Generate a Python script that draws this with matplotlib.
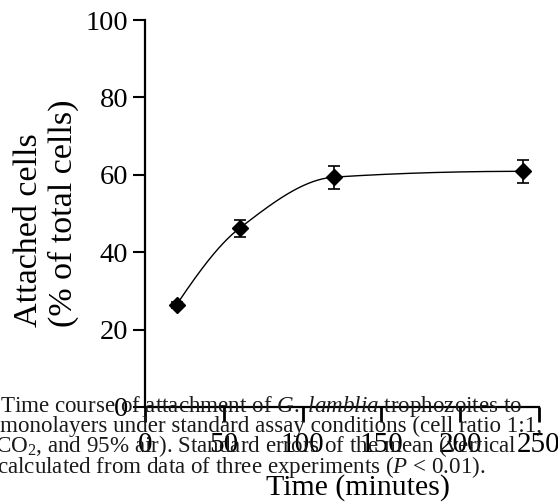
import numpy as np
import matplotlib
matplotlib.use("Agg")
import matplotlib.pyplot as plt

# ---- data ----
time_min = [20, 60, 120, 240]
attached_pct = [26.4, 46.2, 59.4, 60.9]
sem = [0.8, 2.2, 3.0, 3.0]
x_ticks = [0, 50, 100, 150, 200, 250]
y_ticks = [0, 20, 40, 60, 80, 100]
caption_lines = [
    r"Time course of attachment of $\it{G.\ lamblia}$ trophozoites to",
    "monolayers under standard assay conditions (cell ratio 1:1,",
    r"CO$_2$, and 95% air). Standard errors of the mean (vertical",
    r"calculated from data of three experiments ($\it{P}$ < 0.01).",
]

plt.rcParams['font.family'] = ['Liberation Serif', 'DejaVu Serif']
plt.rcParams['mathtext.fontset'] = 'custom'
plt.rcParams['mathtext.rm'] = 'Liberation Serif'
plt.rcParams['mathtext.it'] = 'Liberation Serif:italic'


def pchip(x, y, xn):
    x = np.asarray(x, float); y = np.asarray(y, float)
    h = np.diff(x); d = np.diff(y) / h
    n = len(x); m = np.zeros(n)
    for k in range(1, n - 1):
        if d[k-1] * d[k] > 0:
            w1 = 2 * h[k] + h[k-1]; w2 = h[k] + 2 * h[k-1]
            m[k] = (w1 + w2) / (w1 / d[k-1] + w2 / d[k])
    m[0] = ((2 * h[0] + h[1]) * d[0] - h[0] * d[1]) / (h[0] + h[1])
    if np.sign(m[0]) != np.sign(d[0]): m[0] = 0
    m[-1] = ((2 * h[-1] + h[-2]) * d[-1] - h[-1] * d[-2]) / (h[-1] + h[-2])
    if np.sign(m[-1]) != np.sign(d[-1]): m[-1] = 0
    out = np.empty_like(xn)
    for i, xv in enumerate(xn):
        k = min(np.searchsorted(x, xv, side='right') - 1, n - 2)
        t = (xv - x[k]) / h[k]
        h00 = 2*t**3 - 3*t**2 + 1; h10 = t**3 - 2*t**2 + t
        h01 = -2*t**3 + 3*t**2; h11 = t**3 - t**2
        out[i] = h00*y[k] + h10*h[k]*m[k] + h01*y[k+1] + h11*h[k]*m[k+1]
    return out


fig = plt.figure(figsize=(5.58, 5.04), dpi=100)
ax = fig.add_axes([145/558, 97/504, (539-145)/558, (407-20)/504])

xs = np.linspace(time_min[0], time_min[-1], 300)
ax.plot(xs, pchip(time_min, attached_pct, xs), color='black', lw=1.0, zorder=2)
ax.errorbar(time_min, attached_pct, yerr=sem, fmt='D', color='black', ms=8,
            elinewidth=1.2, capsize=4, capthick=1.2, zorder=3, clip_on=False)

ax.set_xlim(0, 250)
ax.set_ylim(0, 100)
ax.set_xticks(x_ticks)
ax.set_yticks(y_ticks)
for s in ['top', 'right']:
    ax.spines[s].set_visible(False)
for s in ['left', 'bottom']:
    ax.spines[s].set_linewidth(1.6)
ax.tick_params(axis='x', direction='out', length=11, width=2.0, labelsize=21, pad=7)
ax.tick_params(axis='y', direction='out', length=9, width=1.5, labelsize=20.5, pad=3)

ax.set_xlabel("Time (minutes)", fontsize=21.5)
ax.xaxis.set_label_coords(0.54, -0.172)
ax.set_ylabel("Attached cells\n(% of total cells)", fontsize=24.5,
              multialignment='left', linespacing=1.15, labelpad=5)

ybase = [412, 432, 452, 473]
xstart = [0, 0, -5, -3]
for line, yb, xs0 in zip(caption_lines, ybase, xstart):
    fig.text(xs0/558, 1 - yb/504, line, fontsize=16.6, color='#1a1a1a',
             va='baseline', ha='left')

fig.savefig("out.png", dpi=100)
